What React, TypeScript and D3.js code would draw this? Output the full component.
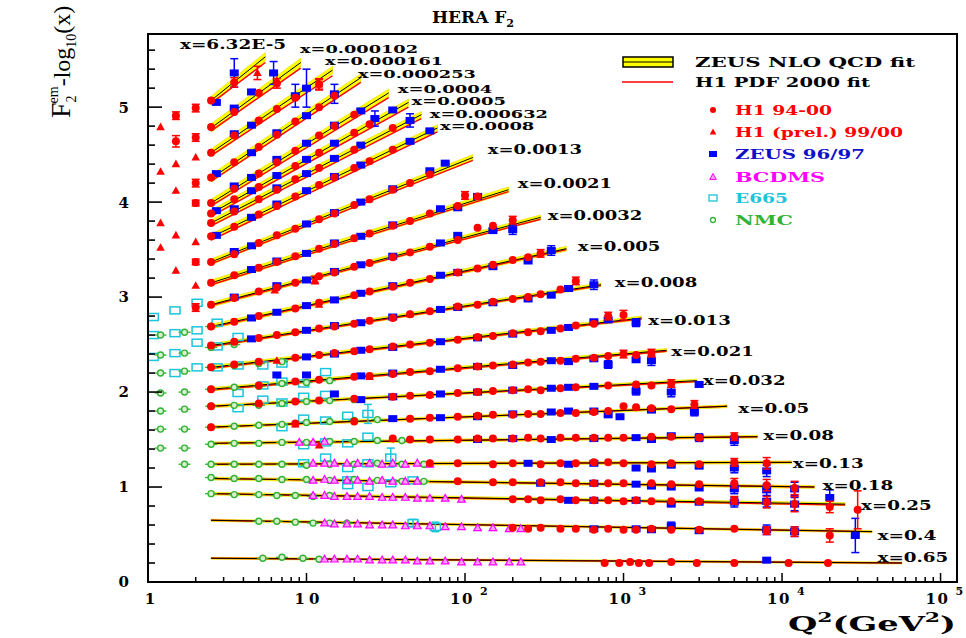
import { useEffect, useRef } from 'react';
import * as d3 from 'd3';

// x bins, from the top curve (small x) to the bottom curve (large x)
const binLabels = ['x=6.32E-5', 'x=0.000102', 'x=0.000161', 'x=0.000253', 'x=0.0004', 'x=0.0005', 'x=0.000632', 'x=0.0008', 'x=0.0013', 'x=0.0021', 'x=0.0032', 'x=0.005', 'x=0.008', 'x=0.013', 'x=0.021', 'x=0.032', 'x=0.05', 'x=0.08', 'x=0.13', 'x=0.18', 'x=0.25', 'x=0.4', 'x=0.65'];
const labelQ2 = [1.59, 9.1, 13.1, 21.1, 37.7, 46, 60, 69.5, 139, 215, 333, 515, 880, 1430, 2000, 3170, 5300, 7600, 11700, 18000, 31500, 40000, 40000];
const labelY = [5.66, 5.61, 5.48, 5.35, 5.19, 5.06, 4.93, 4.8, 4.55, 4.19, 3.86, 3.53, 3.15, 2.75, 2.43, 2.12, 1.83, 1.54, 1.25, 1.01, 0.8, 0.49, 0.26];

// fits: Q2 range and F2-log10(x) at both ends
const fitQ2Min = [2.5, 2.5, 2.5, 2.5, 2.5, 2.5, 2.5, 2.5, 2.5, 2.5, 2.5, 2.5, 2.5, 2.5, 2.5, 2.5, 2.5, 2.5, 2.5, 2.5, 2.5, 2.5, 2.5];
const fitQ2Max = [5.5, 9.2, 14.6, 22, 33, 44, 53, 67, 112, 188, 300, 436, 720, 1300, 1870, 2900, 4500, 7000, 11500, 16000, 25000, 37000, 57000];
const zeusFitStart = [5.07, 4.78, 4.52, 4.25, 3.99, 3.88, 3.78, 3.63, 3.37, 3.15, 2.92, 2.69, 2.49, 2.26, 2.03, 1.85, 1.63, 1.46, 1.24, 1.09, 0.93, 0.65, 0.25];
const zeusFitEnd = [5.53, 5.47, 5.39, 5.31, 5.15, 5.05, 4.92, 4.78, 4.47, 4.13, 3.84, 3.51, 3.13, 2.78, 2.44, 2.12, 1.85, 1.53, 1.26, 1.0, 0.82, 0.53, 0.2];
const zeusFitBand = [0.045, 0.045, 0.04, 0.04, 0.04, 0.035, 0.035, 0.035, 0.03, 0.03, 0.025, 0.025, 0.02, 0.02, 0.018, 0.016, 0.015, 0.015, 0.015, 0.015, 0.015, 0.012, 0.01];
const h1FitStart = [5.04, 4.75, 4.49, 4.22, 3.96, 3.85, 3.75, 3.6, 3.35, 3.13, 2.91, 2.68, 2.48, 2.25, 2.02, 1.85, 1.63, 1.46, 1.24, 1.09, 0.93, 0.65, 0.25];
const h1FitEnd = [5.47, 5.41, 5.33, 5.26, 5.1, 5.0, 4.88, 4.74, 4.44, 4.11, 3.82, 3.5, 3.12, 2.77, 2.43, 2.11, 1.85, 1.53, 1.26, 1.0, 0.81, 0.53, 0.2];

// [Q2, F2-log10(x), error]
const h1Data = [
  [2.0, 4.99, 0.04], [2.0, 4.68, 0.04], [2.0, 4.2, 0.04], [2.0, 3.99, 0.03], [2.0, 3.37, 0.03], [2.0, 2.89, 0.04], [1.5, 4.91, 0.04], [1.5, 4.64, 0.06],
  [2.5, 5.07], [3.5, 5.26, 0.05],
  [2.5, 4.79], [3.5, 4.95], [5, 5.15], [6.5, 5.25, 0.05],
  [2.5, 4.52], [3.5, 4.7], [5, 4.86], [6.5, 4.98], [8.5, 5.1], [12, 5.24, 0.05],
  [2.5, 4.26], [3.5, 4.42], [5, 4.58], [6.5, 4.71], [8.5, 4.85], [12, 5.0], [15, 5.12],
  [2.5, 3.99], [3.5, 4.14], [5, 4.3], [6.5, 4.42], [8.5, 4.54], [12, 4.7], [15, 4.8], [20, 4.92],
  [2.5, 3.88], [3.5, 4.03], [5, 4.16], [8.5, 4.38], [12, 4.52], [20, 4.73], [25, 4.82],
  [2.5, 3.78], [3.5, 3.9], [5, 4.03], [6.5, 4.13], [8.5, 4.24], [12, 4.36], [20, 4.55], [35, 4.78],
  [2.5, 3.64], [3.5, 3.74], [5, 3.87], [6.5, 3.96], [8.5, 4.06], [12, 4.18], [15, 4.26], [20, 4.36], [25, 4.43], [35, 4.55],
  [2.5, 3.37], [3.5, 3.45], [5, 3.57], [6.5, 3.65], [8.5, 3.72], [12, 3.82], [15, 3.88], [20, 3.97], [25, 4.03], [35, 4.13], [45, 4.2], [60, 4.29],
  [2.5, 3.15], [3.5, 3.23], [5, 3.31], [6.5, 3.37], [8.5, 3.43], [12, 3.51], [15, 3.56], [20, 3.62], [25, 3.67], [35, 3.75], [45, 3.8], [60, 3.88], [90, 3.96], [100, 4.07, 0.04], [120, 4.06],
  [2.5, 2.92], [3.5, 2.99], [5, 3.06], [6.5, 3.1], [8.5, 3.15], [12, 3.22], [15, 3.26], [20, 3.32], [25, 3.36], [35, 3.42], [45, 3.47], [60, 3.53], [90, 3.6], [120, 3.73], [150, 3.75], [200, 3.81, 0.04],
  [2.5, 2.69], [3.5, 2.74], [5, 2.8], [8.5, 2.88], [12, 2.94], [20, 3.02], [25, 3.06], [35, 3.11], [45, 3.15], [60, 3.19], [90, 3.26], [120, 3.3], [150, 3.34], [200, 3.39], [250, 3.42], [300, 3.46, 0.04],
  [2.5, 2.49], [3.5, 2.53], [5, 2.57], [6.5, 2.6], [8.5, 2.63], [12, 2.67], [15, 2.69], [20, 2.72], [25, 2.75], [35, 2.78], [45, 2.82], [60, 2.85], [90, 2.9], [120, 2.92], [150, 2.95], [200, 2.98], [250, 3.0], [300, 3.03], [400, 3.08], [500, 3.17, 0.04],
  [2.5, 2.26], [3.5, 2.29], [5, 2.32], [8.5, 2.36], [12, 2.39], [15, 2.41], [20, 2.43], [25, 2.45], [35, 2.48], [45, 2.5], [60, 2.52], [90, 2.55], [120, 2.58], [150, 2.59], [200, 2.62], [250, 2.63], [300, 2.64], [400, 2.67], [500, 2.7], [650, 2.72], [800, 2.8, 0.04], [1000, 2.81, 0.05],
  [2.5, 2.03], [5, 2.07], [8.5, 2.11], [12, 2.13], [20, 2.16], [25, 2.17], [35, 2.19], [45, 2.21], [60, 2.22], [90, 2.25], [120, 2.27], [150, 2.28], [200, 2.29], [250, 2.31], [300, 2.32], [400, 2.33], [500, 2.35], [650, 2.36], [800, 2.38], [1000, 2.4, 0.04], [1200, 2.39], [1500, 2.41, 0.04],
  [2.5, 1.85], [5, 1.88], [8.5, 1.9], [12, 1.91], [20, 1.93], [35, 1.95], [45, 1.96], [60, 1.97], [90, 1.99], [120, 2.0], [150, 2.01], [200, 2.02], [250, 2.03], [300, 2.02], [400, 2.04], [500, 2.05], [800, 2.07], [1200, 2.08], [1500, 2.07], [2000, 2.09, 0.04],
  [2.5, 1.63], [8.5, 1.67], [20, 1.69], [45, 1.72], [60, 1.73], [90, 1.74], [120, 1.75], [150, 1.76], [200, 1.76], [250, 1.77], [300, 1.77], [400, 1.78], [500, 1.78], [650, 1.79], [800, 1.8], [1000, 1.85], [1200, 1.84], [1500, 1.83], [2000, 1.82], [2800, 1.87, 0.04],
  [35, 1.51], [45, 1.5], [60, 1.5], [90, 1.5], [120, 1.51], [150, 1.51], [200, 1.51], [250, 1.52], [300, 1.51], [400, 1.52], [500, 1.52], [650, 1.52], [800, 1.52], [1000, 1.52], [1500, 1.53], [2000, 1.53], [3000, 1.52], [5000, 1.53, 0.04],
  [60, 1.25], [90, 1.25], [150, 1.24], [200, 1.25], [300, 1.24], [400, 1.25], [500, 1.25], [650, 1.26], [800, 1.26], [1000, 1.25], [1500, 1.24], [2000, 1.25], [3000, 1.24], [5000, 1.26, 0.04], [8000, 1.25, 0.06],
  [90, 1.06], [150, 1.05], [200, 1.05], [300, 1.05], [400, 1.05], [500, 1.04], [650, 1.04], [800, 1.04], [1000, 1.04], [1500, 1.04], [2000, 1.03], [3000, 1.03], [5000, 1.04, 0.05], [8000, 1.02, 0.06], [12000, 0.99, 0.07],
  [200, 0.87], [250, 0.87], [300, 0.86], [400, 0.87], [500, 0.86], [650, 0.86], [800, 0.86], [1000, 0.85], [1200, 0.86], [1500, 0.85], [2000, 0.85], [3000, 0.85], [5000, 0.86, 0.04], [8000, 0.84, 0.06], [12000, 0.82, 0.08], [20000, 0.79, 0.06], [30000, 0.76, 0.2],
  [200, 0.57], [250, 0.56], [300, 0.57], [400, 0.56], [500, 0.56], [650, 0.55], [800, 0.56], [1000, 0.55], [1200, 0.55], [1500, 0.56], [2000, 0.55], [3000, 0.55], [5000, 0.56], [8000, 0.54, 0.04], [12000, 0.53, 0.05], [20000, 0.49, 0.07],
  [760, 0.2], [940, 0.2], [1100, 0.21], [1250, 0.2], [1450, 0.2], [2000, 0.21], [2900, 0.2], [5000, 0.2], [11000, 0.2], [19500, 0.2],
];

const h1PrelData = [
  [1.2, 4.79], [1.2, 4.32], [1.2, 3.78], [1.2, 3.52], [1.5, 4.4], [1.5, 4.12], [1.5, 3.65], [1.5, 3.28], [2.0, 4.47], [2.0, 3.58], [2.0, 3.12],
  [4.9, 5.36, 0.07], [6.5, 5.28], [12, 5.24, 0.06], [6.3, 3.07], [11.3, 3.18, 0.04], [12, 2.92], [45, 2.82], [6.5, 2.33], [25, 2.16], [60, 1.97], [8.5, 1.66], [12, 1.44],
];

const zeusData = [
  [2.7, 5.05], [3.5, 5.36, 0.15], [6.2, 5.36, 0.12],
  [3.5, 4.99], [4.5, 5.16],
  [3.5, 4.72], [4.5, 4.81], [8.5, 5.12, 0.12], [10, 5.2, 0.2],
  [2.7, 4.3], [4.5, 4.52], [6.5, 4.73], [10, 4.91], [15, 5.14, 0.1],
  [3.5, 4.17], [4.5, 4.26], [6.5, 4.45], [10, 4.62], [15, 4.81], [22, 4.96],
  [2.7, 3.91], [4.5, 4.12], [6.5, 4.28], [10, 4.45], [15, 4.62], [27, 4.88, 0.08], [35, 4.97],
  [3.5, 3.93], [6.5, 4.15], [10, 4.3], [15, 4.46], [22, 4.6], [45, 4.86, 0.07],
  [2.7, 3.65], [4.5, 3.84], [6.5, 3.98], [10, 4.12], [15, 4.27], [22, 4.39], [45, 4.64], [60, 4.75],
  [3.5, 3.48], [4.5, 3.54], [10, 3.77], [15, 3.89], [22, 4.0], [35, 4.14], [60, 4.33], [75, 4.41],
  [4.5, 3.29], [6.5, 3.38], [10, 3.46], [15, 3.57], [22, 3.64], [35, 3.76], [70, 3.93], [90, 3.94], [120, 4.06],
  [3.5, 3.0], [6.5, 3.12], [10, 3.18], [15, 3.27], [22, 3.34], [35, 3.43], [70, 3.57], [90, 3.65], [150, 3.7], [200, 3.71, 0.05],
  [4.5, 2.78], [6.5, 2.84], [10, 2.91], [15, 2.97], [22, 3.04], [35, 3.12], [70, 3.23], [90, 3.26], [150, 3.32], [250, 3.38], [350, 3.49, 0.05],
  [4.5, 2.56], [10, 2.65], [15, 2.7], [22, 2.73], [35, 2.79], [70, 2.87], [90, 2.89], [150, 2.94], [250, 2.98], [350, 3.02], [450, 3.09], [650, 3.13, 0.05],
  [10, 2.37], [15, 2.4], [22, 2.44], [35, 2.47], [70, 2.53], [120, 2.57], [200, 2.61], [350, 2.65], [450, 2.68], [650, 2.74], [800, 2.76], [1200, 2.73, 0.04],
  [6.5, 2.18], [10, 2.18], [22, 2.17], [35, 2.2], [70, 2.24], [120, 2.27], [200, 2.28], [350, 2.33], [450, 2.32], [650, 2.35], [800, 2.29, 0.04], [1200, 2.34], [1500, 2.33, 0.05],
  [15, 1.98], [22, 1.92], [35, 1.95], [70, 1.98], [120, 2.0], [200, 2.02], [350, 2.04], [450, 2.05], [650, 2.06], [1200, 2.01, 0.04], [2000, 2.0, 0.05], [3000, 2.08],
  [35, 1.72], [70, 1.73], [120, 1.74], [200, 1.77], [350, 1.79], [450, 1.8], [650, 1.8], [800, 1.76], [950, 1.74], [1500, 1.81], [2800, 1.79, 0.04],
  [120, 1.5], [200, 1.51], [350, 1.5], [650, 1.51], [1200, 1.52], [1500, 1.5], [2000, 1.54], [3000, 1.52, 0.04], [5000, 1.49, 0.05],
  [250, 1.25], [450, 1.24], [650, 1.25], [1200, 1.2], [1500, 1.19], [2000, 1.23], [3000, 1.22], [5000, 1.2, 0.05], [8000, 1.17, 0.06],
  [300, 1.04], [650, 1.04], [1200, 1.03], [1500, 1.01], [2000, 1.0], [3000, 0.99], [5000, 0.98, 0.05], [8000, 0.97, 0.06], [12000, 0.98, 0.07],
  [450, 0.86], [650, 0.86], [1200, 0.86], [2000, 0.82], [3000, 0.84], [5000, 0.84, 0.05], [8000, 0.85, 0.06], [12000, 0.82, 0.07], [20000, 0.89, 0.08],
  [650, 0.56], [1200, 0.56], [1500, 0.55], [2000, 0.59, 0.04], [3000, 0.54], [8000, 0.55, 0.05], [12000, 0.53, 0.05], [29000, 0.49, 0.18],
  [8000, 0.23],
];

const bcdmsData = [
  [9, 1.47], [11, 1.47], [13, 1.48],
  [11, 1.25], [13, 1.25], [15, 1.25], [18, 1.25], [21, 1.25], [25, 1.25], [30, 1.24], [35, 1.25], [42, 1.24], [50, 1.25], [60, 1.24],
  [11, 1.07], [13, 1.08], [15, 1.07], [18, 1.07], [21, 1.07], [25, 1.06], [30, 1.07], [35, 1.06], [42, 1.06], [50, 1.06],
  [11, 0.91], [13, 0.91], [15, 0.9], [18, 0.9], [21, 0.9], [25, 0.9], [30, 0.89], [35, 0.89], [42, 0.89], [50, 0.88], [60, 0.88], [75, 0.88], [95, 0.87],
  [13, 0.62], [15, 0.61], [18, 0.61], [21, 0.61], [25, 0.6], [30, 0.6], [35, 0.6], [42, 0.59], [50, 0.59], [60, 0.59], [75, 0.58], [95, 0.58], [120, 0.57], [150, 0.57], [190, 0.56], [225, 0.56],
  [13, 0.24], [15, 0.24], [18, 0.24], [21, 0.24], [25, 0.23], [30, 0.23], [35, 0.23], [42, 0.23], [50, 0.22], [60, 0.22], [75, 0.22], [95, 0.21], [120, 0.21], [150, 0.21], [190, 0.21], [225, 0.21],
];

const e665Data = [
  [1.08, 2.79], [1.48, 2.86], [2.04, 2.94], [1.08, 2.6], [1.48, 2.62], [2.04, 2.65], [1.08, 2.37], [1.48, 2.41], [2.04, 2.52], [1.48, 2.2], [2.04, 2.26],
  [2.73, 2.73], [2.73, 2.48], [3.7, 2.58], [2.73, 2.26], [3.7, 2.28], [5.3, 2.28], [7.0, 2.3], [3.7, 1.99], [5.3, 2.07], [7.0, 2.11], [9.6, 2.09],
  [3.7, 1.83], [5.3, 1.92], [7.0, 1.89], [9.6, 1.95], [13.2, 2.21], [13.2, 1.97], [7.0, 1.63], [9.6, 1.72], [13.2, 1.7], [18.2, 1.75], [24.4, 1.77, 0.1],
  [9.6, 1.44], [13.2, 1.47], [18.2, 1.46], [24.4, 1.53], [13.2, 1.31], [9.6, 1.25], [18.2, 1.2], [24.4, 1.25], [34, 1.31, 0.1],
  [18.2, 1.07], [18.2, 1.02], [24.4, 1.0], [34, 1.04], [47, 1.07], [47, 0.62, 0.04], [65, 0.58, 0.05],
];

const nmcData = [
  [1.2, 2.6], [1.7, 2.63], [2.5, 2.69],
  [1.2, 2.39], [1.7, 2.41], [2.5, 2.47], [3.5, 2.5],
  [1.2, 2.2], [1.7, 2.22], [2.5, 2.26], [3.5, 2.28], [5, 2.3], [7, 2.32],
  [1.2, 1.99], [1.7, 2.0], [2.5, 2.03], [3.5, 2.05], [5, 2.06], [7, 2.09], [10, 2.1], [14, 2.12],
  [1.2, 1.8], [1.7, 1.82], [2.5, 1.85], [3.5, 1.86], [5, 1.86], [7, 1.88], [10, 1.9], [14, 1.91], [20, 1.92],
  [1.2, 1.61], [1.7, 1.61], [2.5, 1.63], [3.5, 1.64], [5, 1.65], [7, 1.66], [10, 1.68], [14, 1.69], [20, 1.7], [28, 1.71],
  [1.2, 1.41], [1.7, 1.41], [2.5, 1.45], [3.5, 1.46], [5, 1.46], [7, 1.47], [10, 1.47], [14, 1.48], [20, 1.48], [28, 1.49], [40, 1.49],
  [1.7, 1.24], [2.5, 1.24], [3.5, 1.24], [5, 1.24], [7, 1.24], [10, 1.23], [14, 1.24], [20, 1.24], [28, 1.25], [40, 1.24], [55, 1.24],
  [2.5, 1.1], [3.5, 1.09], [5, 1.09], [7, 1.08], [10, 1.08], [14, 1.07], [20, 1.08], [28, 1.07], [40, 1.06], [55, 1.06],
  [2.5, 0.93], [3.5, 0.92], [5, 0.92], [6.5, 0.91], [8.5, 0.91], [11, 0.9], [14, 0.91],
  [5, 0.64], [6.5, 0.64], [8.5, 0.63], [11, 0.62], [14, 0.62], [18, 0.62],
  [5.3, 0.25], [7, 0.26], [9.5, 0.25], [12, 0.24],
];

const yTickLabels = ['0', '1', '2', '3', '4', '5'];
const xTickExponents = [0, 1, 2, 3, 4, 5];

const RED = '#ff0000';
const BLUE = '#0000ff';
const MAGENTA = '#ff00ff';
const CYAN = '#1cc4dc';
const GREEN = '#33b233';
const FONT = '"DejaVu Serif", "Liberation Serif", serif';

function App() {
  const svgRef = useRef(null);

  useEffect(() => {
    const svg = d3.select(svgRef.current);
    svg.selectAll('*').remove();

    const x = d3.scaleLog().domain([1, 127000]).range([148, 957]);
    const y = d3.scaleLinear().domain([0, 5.77]).range([582, 34]);

    // fit curves
    const fits = svg.append('g');
    binLabels.forEach((label, i) => {
      const zeus = [[fitQ2Min[i], zeusFitStart[i]], [fitQ2Max[i], zeusFitEnd[i]]];
      const h1 = [[fitQ2Min[i], h1FitStart[i]], [fitQ2Max[i], h1FitEnd[i]]];
      const band = zeusFitBand[i];
      fits
        .append('path')
        .datum(zeus)
        .attr('d', d3.area().x(d => x(d[0])).y0(d => y(d[1] - band)).y1(d => y(d[1] + band)))
        .attr('fill', '#ffff00')
        .attr('stroke', '#e8d800')
        .attr('stroke-width', 0.6);
      fits
        .append('path')
        .datum(h1)
        .attr('d', d3.line().x(d => x(d[0])).y(d => y(d[1])))
        .attr('stroke', RED)
        .attr('stroke-width', 1.4)
        .attr('fill', 'none');
      fits
        .append('path')
        .datum(zeus)
        .attr('d', d3.line().x(d => x(d[0])).y(d => y(d[1])))
        .attr('stroke', '#000')
        .attr('stroke-width', 1)
        .attr('fill', 'none');
    });

    const errors = (g, data, color) => {
      data.filter(d => d[2]).forEach(d => {
        const cx = x(d[0]);
        const y0 = y(d[1] - d[2]);
        const y1 = y(d[1] + d[2]);
        g.append('line').attr('x1', cx).attr('x2', cx).attr('y1', y0).attr('y2', y1).attr('stroke', color).attr('stroke-width', 1.5);
        [y0, y1].forEach(yy =>
          g.append('line').attr('x1', cx - 4).attr('x2', cx + 4).attr('y1', yy).attr('y2', yy).attr('stroke', color).attr('stroke-width', 1.5),
        );
      });
    };

    const triangle = (cx, cy, r) => `M${cx},${cy - r}L${cx + r * 0.95},${cy + r * 0.7}L${cx - r * 0.95},${cy + r * 0.7}Z`;

    // fixed target data
    const fixed = svg.append('g');
    errors(fixed, e665Data, CYAN);
    fixed
      .selectAll('.e665')
      .data(e665Data)
      .enter()
      .append('rect')
      .attr('x', d => x(d[0]) - 5)
      .attr('y', d => y(d[1]) - 3.5)
      .attr('width', 10)
      .attr('height', 7)
      .attr('fill', 'none')
      .attr('stroke', CYAN)
      .attr('stroke-width', 1.5);

    fixed
      .selectAll('.nmc-bar')
      .data(nmcData)
      .enter()
      .append('line')
      .attr('x1', d => x(d[0]) - 6)
      .attr('x2', d => x(d[0]) + 6)
      .attr('y1', d => y(d[1]))
      .attr('y2', d => y(d[1]))
      .attr('stroke', GREEN)
      .attr('stroke-width', 1.3);
    fixed
      .selectAll('.nmc')
      .data(nmcData)
      .enter()
      .append('circle')
      .attr('cx', d => x(d[0]))
      .attr('cy', d => y(d[1]))
      .attr('r', 3)
      .attr('fill', '#d8f0d0')
      .attr('stroke', GREEN)
      .attr('stroke-width', 1.4);

    fixed
      .selectAll('.bcdms')
      .data(bcdmsData)
      .enter()
      .append('path')
      .attr('d', d => triangle(x(d[0]), y(d[1]), 4))
      .attr('fill', '#f8a0f8')
      .attr('stroke', MAGENTA)
      .attr('stroke-width', 1.2);

    // HERA data
    const hera = svg.append('g');
    errors(hera, zeusData, BLUE);
    hera
      .selectAll('.zeus')
      .data(zeusData)
      .enter()
      .append('rect')
      .attr('x', d => x(d[0]) - 4.5)
      .attr('y', d => y(d[1]) - 3.5)
      .attr('width', 9)
      .attr('height', 7)
      .attr('fill', BLUE);

    errors(hera, h1Data, RED);
    hera
      .selectAll('.h1')
      .data(h1Data)
      .enter()
      .append('circle')
      .attr('cx', d => x(d[0]))
      .attr('cy', d => y(d[1]))
      .attr('r', 4)
      .attr('fill', RED);

    errors(hera, h1PrelData, RED);
    hera
      .selectAll('.h1p')
      .data(h1PrelData)
      .enter()
      .append('path')
      .attr('d', d => triangle(x(d[0]), y(d[1]), 4.5))
      .attr('fill', RED);

    // bin labels (the crowded top ones a little smaller)
    svg
      .append('g')
      .selectAll('text')
      .data(binLabels)
      .enter()
      .append('text')
      .attr('x', (d, i) => x(labelQ2[i]))
      .attr('y', (d, i) => y(labelY[i]))
      .attr('dy', '0.36em')
      .attr('textLength', d => d.length * 11.8)
      .attr('lengthAdjust', 'spacingAndGlyphs')
      .attr('font-family', FONT)
      .attr('font-weight', 'bold')
      .attr('font-size', (d, i) => (i >= 1 && i <= 7 ? 10.5 : 12))
      .text(d => d);

    // frame and ticks
    const axes = svg.append('g');
    axes
      .append('rect')
      .attr('x', x.range()[0])
      .attr('y', y.range()[1])
      .attr('width', x.range()[1] - x.range()[0])
      .attr('height', y.range()[0] - y.range()[1])
      .attr('fill', 'none')
      .attr('stroke', '#000')
      .attr('stroke-width', 2);

    d3.range(0, 29).forEach(k => {
      const major = k % 5 === 0;
      axes
        .append('line')
        .attr('x1', x.range()[0])
        .attr('x2', x.range()[0] + (major ? 14 : 7))
        .attr('y1', y(k / 5))
        .attr('y2', y(k / 5))
        .attr('stroke', '#000')
        .attr('stroke-width', 1.6);
    });
    yTickLabels.forEach((t, i) => {
      axes
        .append('text')
        .attr('x', 129)
        .attr('y', y(i))
        .attr('dy', '0.36em')
        .attr('text-anchor', 'end')
        .attr('font-family', FONT)
        .attr('font-weight', 'bold')
        .attr('font-size', 15)
        .text(t);
    });

    xTickExponents.forEach(e => {
      d3.range(1, 10).forEach(m => {
        const v = m * Math.pow(10, e);
        if (v <= 1 || v > x.domain()[1]) return;
        axes
          .append('line')
          .attr('x1', x(v))
          .attr('x2', x(v))
          .attr('y1', y(0))
          .attr('y2', y(0) - (m === 1 ? 9 : 5))
          .attr('stroke', '#000')
          .attr('stroke-width', 1.5);
      });
      const lab = axes
        .append('text')
        .attr('y', 604)
        .attr('font-family', FONT)
        .attr('font-weight', 'bold')
        .attr('font-size', 15);
      if (e === 0) {
        lab.attr('x', x(1) + 2).attr('text-anchor', 'middle').text('1');
      } else if (e === 1) {
        lab.attr('x', x(10) - 12).attr('textLength', 25).text('10');
      } else {
        lab.attr('x', x(Math.pow(10, e)) - 15).attr('letter-spacing', 1.5).text('10');
        lab.append('tspan').attr('dx', 6).attr('dy', -9).attr('font-size', 11).text(String(e));
      }
    });

    // axis titles
    const xt = svg
      .append('text')
      .attr('x', 788)
      .attr('y', 631)
      .attr('font-family', FONT)
      .attr('font-weight', 'bold')
      .attr('font-size', 20)
      .attr('textLength', 168)
      .attr('lengthAdjust', 'spacingAndGlyphs');
    xt.append('tspan').text('Q');
    xt.append('tspan').attr('dy', -9).attr('font-size', 13).text('2');
    xt.append('tspan').attr('dy', 9).text('(GeV');
    xt.append('tspan').attr('dy', -9).attr('font-size', 13).text('2');
    xt.append('tspan').attr('dy', 9).text(')');

    const yt = svg
      .append('text')
      .attr('transform', 'translate(70,118) rotate(-90)')
      .attr('font-family', '"Liberation Serif", serif')
      .attr('font-size', 24);
    yt.append('tspan').attr('font-size', 28).text('F');
    yt.append('tspan').attr('dy', 6).attr('font-size', 14).text('2');
    yt.append('tspan').attr('dx', -8).attr('dy', -18).attr('font-size', 14).text('em');
    yt.append('tspan').attr('dy', 12).text('-log');
    yt.append('tspan').attr('dy', 6).attr('font-size', 14).text('10');
    yt.append('tspan').attr('dy', -6).text('(x)');

    const title = svg
      .append('text')
      .attr('x', 432)
      .attr('y', 23)
      .attr('font-family', FONT)
      .attr('font-weight', 'bold')
      .attr('font-size', 17);
    title.append('tspan').text('HERA F');
    title.append('tspan').attr('dy', 4).attr('font-size', 11).text('2');

    // legend
    const legend = svg.append('g');
    legend.append('rect').attr('x', 623).attr('y', 57).attr('width', 50).attr('height', 10).attr('fill', '#ffff00').attr('stroke', '#000').attr('stroke-width', 1.5);
    legend.append('line').attr('x1', 623).attr('x2', 673).attr('y1', 62).attr('y2', 62).attr('stroke', '#000').attr('stroke-width', 1.2);
    legend.append('line').attr('x1', 622).attr('x2', 673).attr('y1', 82).attr('y2', 82).attr('stroke', RED).attr('stroke-width', 1.5);

    const legendRows = [
      { label: 'ZEUS NLO QCD fit', color: '#000', x: 695, y: 62, len: 220 },
      { label: 'H1 PDF 2000 fit', color: '#000', x: 695, y: 82, len: 175 },
      { label: 'H1 94-00', color: RED, x: 735, y: 110, len: 97 },
      { label: 'H1 (prel.) 99/00', color: RED, x: 735, y: 132, len: 168 },
      { label: 'ZEUS 96/97', color: '#1010c8', x: 735, y: 154, len: 130 },
      { label: 'BCDMS', color: MAGENTA, x: 735, y: 177, len: 90 },
      { label: 'E665', color: CYAN, x: 735, y: 198, len: 53 },
      { label: 'NMC', color: GREEN, x: 735, y: 220, len: 58 },
    ];
    legendRows.forEach(r => {
      legend
        .append('text')
        .attr('x', r.x)
        .attr('y', r.y)
        .attr('dy', '0.36em')
        .attr('fill', r.color)
        .attr('font-family', FONT)
        .attr('font-weight', 'bold')
        .attr('font-size', 13)
        .attr('textLength', r.len)
        .attr('lengthAdjust', 'spacingAndGlyphs')
        .text(r.label);
    });
    legend.append('circle').attr('cx', 713).attr('cy', 110).attr('r', 3).attr('fill', RED);
    legend.append('path').attr('d', triangle(713, 132, 3.5)).attr('fill', RED);
    legend.append('rect').attr('x', 709).attr('y', 151).attr('width', 8).attr('height', 6).attr('fill', BLUE);
    legend.append('path').attr('d', triangle(713, 177, 3.5)).attr('fill', '#f8a0f8').attr('stroke', MAGENTA);
    legend.append('rect').attr('x', 709).attr('y', 195).attr('width', 8).attr('height', 6).attr('fill', 'none').attr('stroke', CYAN).attr('stroke-width', 1.3);
    legend.append('circle').attr('cx', 713).attr('cy', 220).attr('r', 2.5).attr('fill', 'none').attr('stroke', GREEN).attr('stroke-width', 1.3);
  }, []);

  return (
    <svg
      ref={svgRef}
      width={966}
      height={638}
      style={{ position: 'absolute', left: 0, top: 0, background: '#fff' }}
    />
  );
}

export default App;
